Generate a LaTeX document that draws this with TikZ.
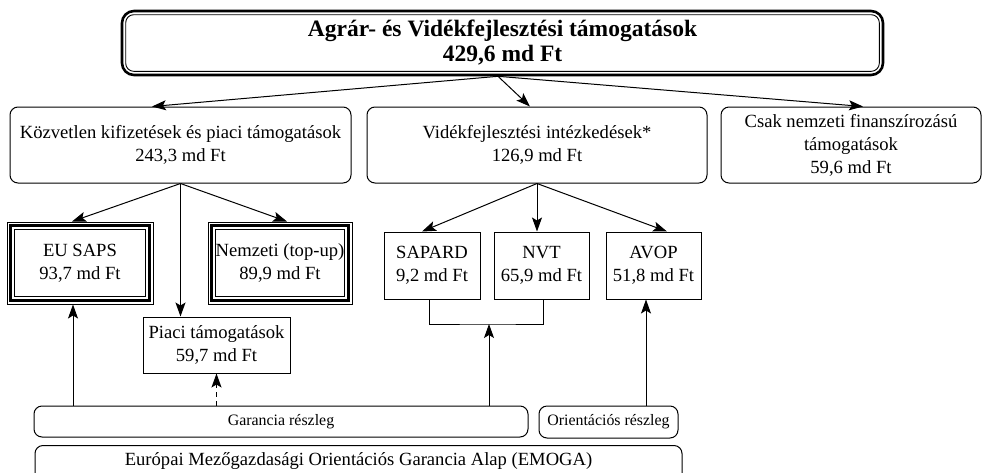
\documentclass[tikz,border=0pt]{standalone}
\usepackage{fontspec}
\setmainfont{Liberation Serif}
\usetikzlibrary{arrows.meta}
\begin{document}
\begin{tikzpicture}[x=1pt,y=-1pt,
  txt/.style={font=\fontsize{18.6}{23}\selectfont, align=center, inner sep=0pt},
  smalltxt/.style={font=\fontsize{15.9}{19}\selectfont, align=center, inner sep=0pt},
  rbox/.style={draw, line width=1pt, rounded corners=8pt, txt},
  sbox/.style={draw, line width=1pt, txt},
  arr/.style={line width=1pt, -{Stealth[length=14pt,width=10pt,inset=3pt]}},
  ln/.style={line width=1pt}
]
\clip (0,0) rectangle (983,472);
\useasboundingbox (0,0) rectangle (983,472);
% top box
\node[draw, line width=2.6pt, rounded corners=12pt, minimum width=761pt, minimum height=64pt,
      font=\fontsize{23.5}{25}\selectfont\bfseries, align=center, inner sep=0pt]
  (top) at (502.5,43) {Agrár- és Vidékfejlesztési támogatások\\429,6 md Ft};
\draw[line width=0.9pt, rounded corners=8pt]
  ([shift={(5,-5)}]top.south west) rectangle ([shift={(-5,5)}]top.north east);
% level 2
\node[rbox, minimum width=341pt, minimum height=76pt] (kozv) at (180.5,145)
  {Közvetlen kifizetések és piaci támogatások\\243,3 md Ft};
\node[rbox, minimum width=340pt, minimum height=76pt] (videk) at (537,145)
  {Vidékfejlesztési intézkedések*\\126,9 md Ft};
\node[rbox, minimum width=260pt, minimum height=76pt] (csak) at (851,145)
  {Csak nemzeti finanszírozású\\támogatások\\59,6 md Ft};
% level 3 left
\node[sbox, minimum width=146pt, minimum height=82pt] (eusaps) at (80,263)
  {EU SAPS\\93,7 md Ft};
\node[sbox, minimum width=144pt, minimum height=82pt] (nemzeti) at (280,263)
  {Nemzeti (top-up)\\89,9 md Ft};
\foreach \n in {eusaps,nemzeti}{
  \draw[line width=3.4pt] ([shift={(4.2,-4.2)}]\n.south west) rectangle ([shift={(-4.2,4.2)}]\n.north east);
  \draw[line width=0.7pt] ([shift={(7.8,-7.8)}]\n.south west) rectangle ([shift={(-7.8,7.8)}]\n.north east);
}
\node[sbox, minimum width=147pt, minimum height=56pt] (piaci) at (216.5,345)
  {Piaci támogatások\\59,7 md Ft};
% level 3 middle
\node[sbox, minimum width=96pt, minimum height=67pt] (sapard) at (432,265.5)
  {SAPARD\\9,2 md Ft};
\node[sbox, minimum width=95pt, minimum height=67pt] (nvt) at (541.5,265.5)
  {NVT\\65,9 md Ft};
\node[sbox, minimum width=95pt, minimum height=67pt] (avop) at (653.5,265.5)
  {AVOP\\51,8 md Ft};
% bottom
\node[draw, line width=1pt, rounded corners=8pt, smalltxt, minimum width=494pt, minimum height=31pt]
  (gar) at (281,421.5) {Garancia részleg};
\node[draw, line width=1pt, rounded corners=8pt, smalltxt, minimum width=139pt, minimum height=32pt]
  (orient) at (608.5,422) {Orientációs részleg};
\node[draw, line width=1pt, rounded corners=8pt, minimum width=647pt, minimum height=40pt,
      inner sep=0pt, anchor=north]
  (emoga) at (358.5,445) {};
\node[txt, anchor=base] (emogatxt) at (358.5,465) {Európai Mezőgazdasági Orientációs Garancia Alap (EMOGA)};
% arrows from top
\draw[arr] ([xshift=-4.5]top.south) -- ([xshift=-28.5]kozv.north);
\draw[arr] ([xshift=-4.5]top.south) -- ([xshift=-7]videk.north);
\draw[arr] ([xshift=-4.5]top.south) -- ([xshift=12]csak.north);
% arrows from kozv
\draw[arr] (kozv.south) -- ([xshift=-8]eusaps.north);
\draw[arr] (kozv.south) -- ([xshift=7]nemzeti.north);
\draw[arr] (kozv.south) -- (kozv.south |- piaci.north);
% arrows from videk
\draw[arr] (videk.south) -- ([xshift=-10]sapard.north);
\draw[arr] (videk.south) -- (videk.south |- nvt.north);
\draw[arr] (videk.south) -- ([xshift=13.5]avop.north);
% bracket
\coordinate (br) at (489,324);
\draw[ln] ([xshift=-3]sapard.south) |- (br) -| ([xshift=1.5]nvt.south);
\draw[arr] (br |- gar.north) -- (br);
% from bottom
\draw[arr] ([xshift=-7]eusaps.south |- gar.north) -- ([xshift=-7]eusaps.south);
\draw[arr, dash pattern=on 5pt off 4pt] (piaci.south |- gar.north) -- (piaci.south);
\draw[arr] ([xshift=-7.5]avop.south |- orient.north) -- ([xshift=-7.5]avop.south);
\end{tikzpicture}
\end{document}
